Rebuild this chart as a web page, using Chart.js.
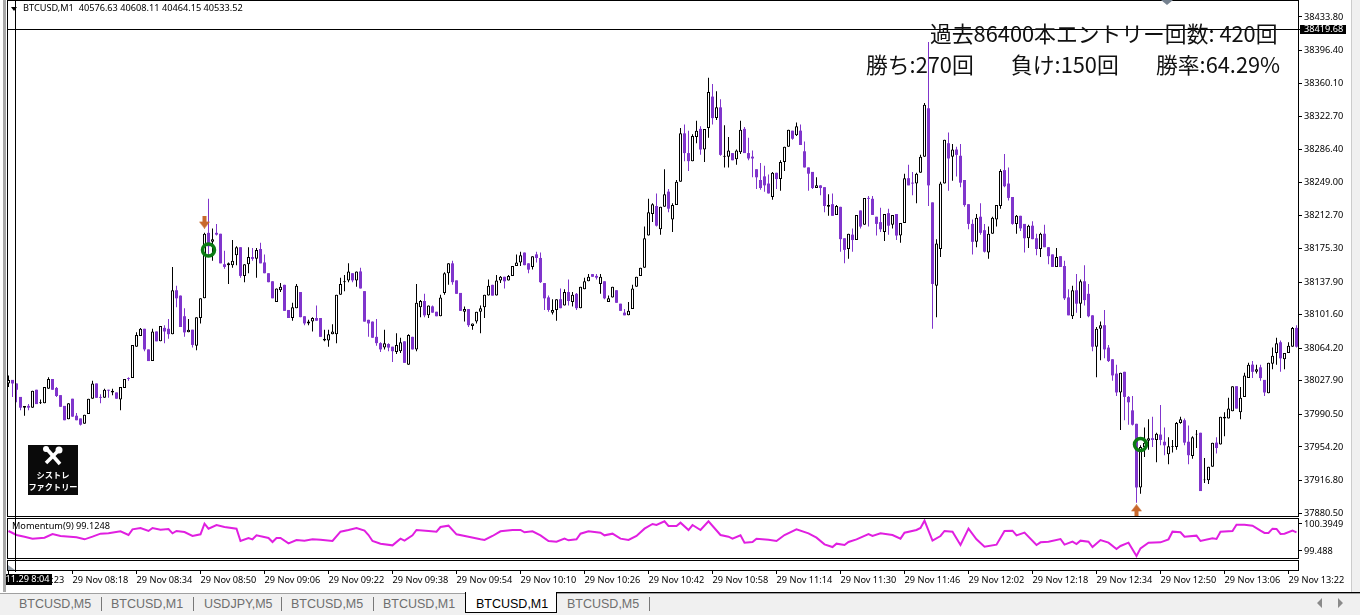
<!DOCTYPE html>
<html lang="ja">
<head>
<meta charset="utf-8">
<title>BTCUSD,M1</title>
<script src="https://cdn.jsdelivr.net/npm/chart.js@4/dist/chart.umd.js"></script>
<style>
  html, body { margin: 0; padding: 0; background: #fff; }
  #wrap { position: relative; width: 1360px; height: 615px; overflow: hidden; background: #fff; font-family: "Noto Sans", sans-serif; }
  #chart { position: absolute; left: 0; top: 0; }
  .abs { position: absolute; white-space: pre; }
  .small { font-size: 9.2px; line-height: 12px; color: #000; }
  .big { font-family: "Noto Sans CJK JP", sans-serif; font-size: 21.8px; line-height: 30px; color: #111; }
  #edgeL { left: 3px; top: 0; width: 3px; height: 592px; background: #a8a8a8; }
  #edgeR { left: 1351px; top: 0; width: 9px; height: 592px; background: #f0f0f0; border-left: 1px solid #ccc; box-sizing: border-box; }
  #tabbar { left: 0; top: 593px; width: 1360px; height: 22px; background: #f0f0f0; border-top: 1px solid #a0a0a0; box-sizing: border-box; }
  #tabline { left: 556px; top: 592px; width: 804px; height: 1px; background: #000; }
  .tab { top: 596px; font-family: "Liberation Sans", sans-serif; font-size: 12.5px; line-height: 16px; color: #6e6e6e; }
  .sep { top: 597px; width: 1px; height: 14px; background: #777; }
  #active { left: 465px; top: 592px; width: 92px; height: 21px; background: #fff; border: 1px solid #000; border-top: 0; box-sizing: border-box; }
  #logo { left: 28px; top: 445px; width: 50px; height: 50px; background: #0a0a0a; color: #fff; text-align: center; white-space: nowrap; font-family: "Noto Sans CJK JP", sans-serif; font-weight: 700; font-size: 8.2px; line-height: 12px; }
  #logo svg { display: block; margin: 1px auto 2px; }
</style>
</head>
<body>
<div id="wrap">
  <canvas id="chart" width="1360" height="592"></canvas>
  <div class="abs" id="edgeL"></div>
  <div class="abs" id="edgeR"></div>

  <div class="abs small" style="left:23px;top:2px">BTCUSD,M1  40576.63 40608.11 40464.15 40533.52</div>
  <svg class="abs" style="left:11px;top:7px" width="6" height="4"><path d="M0 0H6L3 4Z" fill="#000"/></svg>
  <svg class="abs" style="left:1161px;top:0" width="12" height="5"><path d="M0 0H12L6 5Z" fill="#75818f"/></svg>
  <svg class="abs" style="left:8px;top:565px" width="7" height="5"><path d="M0 0L7 5H0Z" fill="#9aa3ad"/></svg>
  <div class="abs small" style="left:12px;top:520px">Momentum(9) 99.1248</div>

  <div class="abs big" style="left:930px;top:18px">過去86400本エントリー回数: 420回</div>
  <div class="abs big" style="left:866px;top:49px">勝ち:270回</div>
  <div class="abs big" style="left:1011px;top:49px">負け:150回</div>
  <div class="abs big" style="left:1156px;top:49px">勝率:64.29%</div>

  <div class="abs" id="logo"><svg width="22" height="20" viewBox="0 0 22 20"><path d="M4 2L18 18" stroke="#fff" stroke-width="3.5"/><path d="M18 3L4 17" stroke="#fff" stroke-width="3.5"/><circle cx="17" cy="4" r="3.5" fill="#fff"/><circle cx="4" cy="3" r="3" fill="#fff"/></svg><div>シストレ</div><div>ファクトリー</div></div>

  <div class="abs" id="tabbar"></div>
  <div class="abs" id="tabline"></div>
  <div class="abs" id="active"></div>
  <div id="tabs"></div>
  <svg class="abs" style="left:1317px;top:598px" width="26" height="10"><path d="M5 0V10L0 5Z M21 0V10L26 5Z" fill="#8a8a8a"/></svg>
</div>

<script>
  // ---------- Data ----------
  const opens = [38025,38029,38025,38010,37998,38000,37998,38018,38003,38003,38019,38030,38020,38012,38000,37985,38008,37989,37986,37980,37991,38008,38025,38010,38009,38018,38015,38015,38007,38020,38031,38031,38066,38078,38086,38063,38050,38083,38072,38087,38086,38080,38129,38123,38100,38082,38085,38067,38098,38120,38193,38183,38193,38192,38158,38157,38157,38168,38177,38145,38158,38166,38164,38175,38160,38148,38139,38116,38129,38135,38107,38098,38109,38127,38100,38092,38094,38098,38098,38073,38073,38080,38080,38124,38138,38140,38148,38140,38150,38128,38096,38094,38077,38070,38065,38069,38066,38060,38061,38072,38046,38077,38063,38110,38117,38101,38111,38105,38100,38126,38148,38159,38140,38126,38105,38108,38089,38094,38105,38110,38123,38135,38123,38140,38144,38140,38145,38156,38160,38171,38159,38155,38169,38165,38137,38121,38104,38107,38119,38112,38127,38116,38125,38109,38130,38139,38147,38145,38136,38139,38116,38121,38129,38114,38104,38101,38108,38133,38145,38154,38190,38214,38223,38197,38222,38239,38208,38224,38250,38304,38282,38273,38300,38309,38286,38310,38345,38321,38333,38278,38278,38282,38275,38283,38309,38282,38278,38264,38252,38256,38248,38233,38260,38253,38272,38289,38307,38302,38307,38284,38266,38261,38243,38246,38244,38222,38225,38213,38222,38187,38175,38191,38185,38218,38202,38232,38231,38211,38205,38194,38215,38202,38214,38190,38204,38254,38249,38248,38260,38278,38332,38227,38134,38175,38248,38293,38278,38286,38279,38252,38225,38203,38183,38211,38196,38171,38192,38208,38223,38263,38248,38233,38203,38212,38203,38187,38201,38187,38175,38192,38177,38169,38155,38167,38156,38121,38100,38129,38114,38139,38125,38101,38066,38086,38090,38065,38052,38036,38015,38038,38010,37995,37980,37909,37954,37961,37964,37962,37968,37960,37946,37954,37954,37981,37984,37960,37944,37968,37970,37917,37917,37932,37959,37957,37986,37986,37994,38022,37993,38010,38031,38046,38038,38043,38029,38014,38047,38059,38071,38052,38059,38066,38087];
  const highs = [38034,38029,38025,38010,38000,38002,38017,38018,38007,38021,38032,38030,38021,38012,38000,38003,38008,37992,37986,37990,38008,38028,38025,38013,38019,38018,38019,38015,38021,38030,38032,38068,38082,38087,38086,38063,38086,38083,38089,38090,38097,38155,38134,38123,38109,38097,38085,38099,38120,38193,38231,38198,38203,38192,38173,38160,38185,38178,38177,38158,38177,38176,38176,38182,38169,38148,38139,38131,38137,38135,38107,38115,38136,38127,38100,38096,38099,38112,38098,38085,38085,38091,38124,38143,38146,38159,38148,38150,38154,38128,38096,38094,38097,38071,38085,38070,38066,38081,38076,38072,38080,38077,38136,38118,38125,38112,38112,38105,38124,38149,38159,38162,38140,38126,38111,38108,38092,38105,38112,38124,38141,38135,38146,38145,38144,38146,38156,38169,38172,38171,38159,38167,38172,38171,38137,38123,38119,38119,38131,38130,38141,38127,38126,38133,38143,38147,38147,38147,38147,38139,38123,38133,38129,38114,38108,38116,38135,38144,38154,38200,38231,38226,38237,38222,38264,38242,38226,38252,38310,38314,38307,38303,38318,38312,38309,38366,38359,38351,38342,38313,38300,38282,38286,38318,38311,38299,38285,38264,38271,38268,38258,38261,38260,38274,38289,38308,38307,38316,38314,38295,38266,38261,38255,38246,38244,38236,38237,38224,38222,38187,38192,38198,38213,38218,38232,38234,38234,38211,38221,38214,38220,38213,38214,38204,38259,38269,38261,38260,38280,38338,38406,38227,38186,38250,38297,38305,38292,38289,38292,38252,38225,38208,38214,38226,38203,38200,38211,38224,38264,38281,38266,38233,38213,38212,38203,38202,38206,38192,38193,38202,38177,38169,38176,38167,38162,38130,38134,38147,38141,38157,38136,38101,38088,38094,38107,38068,38052,38046,38037,38038,38011,38011,37980,37956,37976,37985,37988,37970,38001,37976,37965,37962,37982,37988,37986,37978,37966,37973,37970,37942,37932,37959,37965,37988,37993,38009,38022,38022,38021,38037,38048,38050,38046,38046,38029,38048,38065,38076,38073,38059,38071,38088,38090];
  const lows = [38021,38010,38004,37995,37989,37995,37998,38002,38002,38003,38019,38018,38010,37999,37984,37985,37988,37984,37978,37980,37991,38008,38009,38003,38009,38009,38012,38008,37995,38020,38028,38031,38066,38078,38061,38050,38050,38072,38072,38070,38075,38080,38110,38088,38077,38082,38065,38062,38092,38120,38167,38162,38190,38159,38153,38136,38154,38157,38143,38138,38148,38162,38143,38159,38148,38138,38120,38116,38127,38106,38098,38095,38109,38099,38090,38090,38083,38095,38077,38072,38066,38080,38070,38124,38128,38138,38138,38133,38131,38094,38077,38076,38067,38060,38063,38061,38049,38058,38059,38048,38046,38063,38061,38099,38099,38098,38104,38100,38100,38124,38135,38135,38125,38106,38094,38088,38085,38092,38081,38098,38123,38123,38123,38137,38131,38140,38145,38156,38156,38157,38148,38152,38160,38137,38107,38105,38102,38095,38109,38112,38112,38111,38107,38109,38130,38139,38144,38141,38125,38119,38116,38121,38115,38106,38101,38101,38108,38133,38145,38154,38190,38205,38200,38191,38222,38216,38194,38224,38250,38273,38262,38273,38293,38280,38272,38299,38314,38319,38279,38266,38266,38274,38269,38281,38282,38274,38255,38242,38241,38239,38237,38230,38242,38240,38262,38289,38297,38301,38291,38266,38240,38242,38243,38235,38216,38212,38212,38213,38172,38159,38164,38172,38185,38198,38202,38200,38213,38190,38194,38184,38191,38198,38185,38182,38204,38246,38235,38226,38260,38278,38223,38086,38099,38166,38248,38240,38251,38256,38244,38222,38197,38169,38177,38191,38171,38164,38192,38200,38220,38244,38229,38202,38192,38195,38171,38176,38186,38168,38166,38177,38158,38155,38155,38155,38118,38101,38097,38104,38098,38112,38099,38061,38032,38051,38053,38049,38028,38011,37973,37984,37979,37978,37892,37902,37943,37951,37954,37937,37956,37945,37935,37948,37951,37980,37956,37935,37941,37953,37905,37914,37913,37932,37947,37957,37966,37986,37994,37997,37985,38010,38031,38031,38036,38028,38011,38014,38041,38046,38038,38041,38059,38066,38065];
  const closes = [38029,38025,38018,37998,38000,37998,38017,38002,38004,38021,38030,38018,38011,37999,37984,38003,37988,37984,37979,37990,38008,38025,38009,38009,38018,38017,38017,38008,38021,38030,38030,38068,38079,38086,38063,38050,38083,38072,38089,38083,38080,38129,38120,38088,38082,38085,38068,38099,38120,38192,38178,38186,38191,38159,38155,38159,38162,38177,38145,38158,38166,38164,38174,38159,38148,38138,38120,38131,38133,38106,38098,38110,38134,38099,38092,38094,38098,38095,38077,38075,38080,38083,38124,38136,38139,38150,38140,38150,38131,38094,38092,38076,38070,38063,38070,38065,38061,38068,38071,38048,38079,38063,38115,38117,38101,38112,38104,38100,38121,38148,38159,38138,38125,38106,38108,38090,38092,38105,38109,38124,38134,38123,38140,38144,38139,38145,38156,38160,38168,38157,38152,38167,38165,38138,38120,38107,38107,38119,38109,38127,38117,38124,38109,38133,38139,38144,38144,38143,38144,38120,38120,38133,38115,38106,38101,38106,38131,38144,38154,38187,38216,38225,38201,38222,38236,38220,38224,38250,38304,38282,38273,38301,38307,38286,38309,38350,38321,38333,38280,38279,38285,38274,38285,38308,38282,38276,38276,38255,38243,38246,38237,38260,38253,38272,38289,38308,38298,38312,38291,38266,38259,38243,38246,38243,38223,38224,38212,38223,38186,38174,38192,38185,38213,38200,38232,38231,38213,38203,38197,38214,38201,38213,38190,38204,38254,38246,38248,38259,38278,38336,38246,38136,38181,38248,38297,38276,38286,38280,38249,38224,38203,38183,38210,38193,38172,38192,38210,38224,38262,38245,38232,38203,38212,38198,38187,38201,38186,38175,38192,38177,38167,38155,38166,38155,38120,38101,38129,38114,38139,38118,38100,38066,38086,38090,38063,38050,38034,38015,38037,38010,38004,37979,37909,37954,37959,37964,37962,37969,37962,37956,37955,37955,37981,37985,37959,37945,37965,37969,37905,37918,37932,37959,37953,37988,37988,37997,38022,37997,38009,38034,38046,38038,38041,38031,38015,38048,38056,38070,38053,38059,38067,38087,38066];

  const momentumBars = [0,2,4,6,9,11,13,17,19,21,23,25,28,30,31,33,35,36,38,40,41,42,44,46,48,49,50,52,54,57,58,60,61,62,65,66,67,68,70,72,74,76,78,81,83,85,87,89,90,91,93,96,98,99,101,102,105,107,108,110,112,115,118,119,121,123,126,128,129,131,133,135,137,139,140,142,143,145,148,149,151,153,155,157,159,161,162,164,165,167,168,170,171,173,175,178,180,181,183,184,186,187,190,192,194,197,200,202,204,206,207,209,210,212,215,216,218,221,223,224,227,228,229,231,233,234,236,238,240,242,244,247,249,251,252,254,257,258,260,263,264,266,267,268,270,271,273,275,277,278,280,282,283,285,288,290,291,293,294,297,298,301,302,303,306,307,309,311,313,314,315,316,317,318,319,321,322];
  const momentumValues = [100.160,100.025,99.969,99.902,99.936,100.059,99.992,99.947,99.880,99.969,100.070,100.081,100.149,100.025,100.216,100.261,100.160,100.261,100.205,100.227,100.081,100.160,100.126,99.992,100.048,100.406,100.238,100.361,100.294,100.238,99.824,99.925,99.880,100.014,99.925,99.790,99.925,99.925,99.745,99.857,99.835,99.880,99.869,99.824,100.137,100.193,100.261,100.171,100.025,99.824,99.734,99.678,99.902,99.835,100.014,100.193,100.160,100.137,100.294,100.339,100.048,99.969,99.880,99.857,99.992,100.149,100.193,100.193,100.115,100.149,100.014,99.824,99.801,99.902,99.846,99.880,100.070,100.149,100.104,100.014,100.070,99.902,99.857,99.992,100.238,100.395,100.361,100.484,100.328,100.328,100.440,100.193,100.361,100.193,100.484,100.025,99.969,99.902,100.014,99.768,99.790,99.902,99.869,99.824,100.025,100.216,100.081,99.936,99.712,99.622,99.734,99.689,99.790,99.880,100.059,99.992,100.081,100.025,99.902,100.104,100.193,100.261,100.507,99.835,99.992,100.160,100.137,99.689,100.238,99.880,99.633,99.701,100.160,100.171,100.014,100.104,99.689,99.779,99.801,99.891,99.701,99.801,99.723,99.835,99.801,99.622,99.857,99.768,99.555,99.656,99.768,99.320,99.577,99.768,99.779,99.880,100.137,100.115,99.969,100.003,99.824,99.913,99.891,100.137,100.160,100.372,100.372,100.339,100.171,100.093,100.093,100.238,100.227,100.059,100.070,100.171,100.115];
  const momentumTicks = [100.3949, 99.488];

  const priceTicks = [38433.80,38396.40,38360.10,38322.70,38286.40,38249.00,38212.70,38175.30,38137.90,38101.60,38064.20,38027.90,37990.50,37954.20,37916.80,37880.50];
  const timeTickBars = [0,16,32,48,64,80,96,112,128,144,160,176,192,208,224,240,256,272,288,304,320];
  const timeTickLabels = ["29 Nov 07:23","29 Nov 08:18","29 Nov 08:34","29 Nov 08:50","29 Nov 09:06","29 Nov 09:22","29 Nov 09:38","29 Nov 09:54","29 Nov 10:10","29 Nov 10:26","29 Nov 10:42","29 Nov 10:58","29 Nov 11:14","29 Nov 11:30","29 Nov 11:46","29 Nov 12:02","29 Nov 12:18","29 Nov 12:34","29 Nov 12:50","29 Nov 13:06","29 Nov 13:22"];

  const entryBars = [50, 283];
  const entryPrices = [38174, 37957];
  const sellArrowBars = [49];
  const sellArrowPrices = [38205];
  const buyArrowBars = [282];
  const buyArrowPrices = [37883];

  const crossPrice = 38419.68;
  const crossPriceLabel = "38419.68";
  const crossBar = 1.75;
  const crossTimeLabel = "11.29 8:04";

  const tabNames = ["BTCUSD,M5","BTCUSD,M1","USDJPY,M5","BTCUSD,M5","BTCUSD,M1","BTCUSD,M1","BTCUSD,M5"];

  // ---------- Helpers ----------
  const UP_LINE = "#000000";
  const DOWN_COLOR = "#8035cc";
  const FONT = { family: '"Noto Sans", sans-serif', size: 9.2 };

  function isUp(i) {
    return closes[i] >= opens[i];
  }

  function points(xs, ys) {
    return xs.map((x, i) => ({ x, y: ys[i] }));
  }

  function arrowImage(dir) {
    // small block arrow used as a pointStyle
    const c = document.createElement("canvas");
    c.width = 11;
    c.height = 13;
    const g = c.getContext("2d");
    if (dir === "up") {
      g.translate(0, 13);
      g.scale(1, -1);
    }
    g.fillStyle = "#c8682c";
    g.beginPath();
    g.moveTo(3.5, 0);
    g.lineTo(7.5, 0);
    g.lineTo(7.5, 6);
    g.lineTo(11, 6);
    g.lineTo(5.5, 13);
    g.lineTo(0, 6);
    g.lineTo(3.5, 6);
    g.closePath();
    g.fill();
    return c;
  }

  function fitPanel(scale) {
    scale.width = 62;
    scale.paddingTop = 0;
    scale.paddingBottom = 0;
  }

  // ---------- Frames and crosshair ----------
  const panelFrames = {
    id: "panelFrames",
    afterDatasetsDraw(chart) {
      const { ctx, chartArea, scales } = chart;
      const left = chartArea.left - 0.5;
      const width = chartArea.right - chartArea.left + 1;
      ctx.save();
      ctx.strokeStyle = "#000";
      ctx.lineWidth = 1;
      ctx.strokeRect(left, scales.y.top + 0.5, width, scales.y.bottom - scales.y.top - 1);
      ctx.strokeRect(left, scales.yMom.top + 1.5, width, scales.yMom.bottom - scales.yMom.top - 2);
      ctx.strokeRect(left, scales.yBlank.top + 1.5, width, scales.yBlank.bottom - scales.yBlank.top - 1);

      const cy = Math.floor(scales.y.getPixelForValue(crossPrice)) + 0.5;
      const cx = scales.x.getPixelForValue(crossBar);
      ctx.beginPath();
      ctx.moveTo(chartArea.left, cy);
      ctx.lineTo(chartArea.right + 2, cy);
      ctx.moveTo(cx, 0);
      ctx.lineTo(cx, chartArea.bottom + 2);
      ctx.stroke();

      ctx.font = `${FONT.size}px ${FONT.family}`;
      ctx.textBaseline = "middle";
      ctx.textAlign = "left";
      ctx.fillStyle = "#000";
      ctx.fillRect(chartArea.right + 2, cy - 4.5, 46, 9);
      ctx.fillRect(cx - 10.5, chartArea.bottom + 4, 47, 11);
      ctx.fillStyle = "#fff";
      ctx.fillText(crossPriceLabel, chartArea.right + 6, cy);
      ctx.fillText(crossTimeLabel, cx - 10, chartArea.bottom + 9.5);
      ctx.restore();
    },
  };

  // ---------- Chart ----------
  new Chart(document.getElementById("chart"), {
    type: "bar",
    data: {
      datasets: [
        {
          type: "line",
          data: points(entryBars, entryPrices),
          showLine: false,
          pointStyle: "circle",
          pointRadius: 6,
          pointBorderWidth: 3.5,
          pointBorderColor: "#0a7a12",
          pointBackgroundColor: "transparent",
          order: 0,
          clip: false,
        },
        {
          type: "line",
          data: points(sellArrowBars, sellArrowPrices),
          showLine: false,
          pointStyle: arrowImage("down"),
          order: 0,
        },
        {
          type: "line",
          data: points(buyArrowBars, buyArrowPrices),
          showLine: false,
          pointStyle: arrowImage("up"),
          order: 0,
        },
        {
          type: "line",
          yAxisID: "yMom",
          data: points(momentumBars, momentumValues),
          borderColor: "#e01fe0",
          borderWidth: 2,
          pointRadius: 0,
          tension: 0,
          order: 1,
        },
        {
          // bodies
          data: opens.map((o, i) => ({ x: i, y: [o, closes[i]] })),
          barThickness: 3,
          grouped: false,
          inflateAmount: 0,
          borderSkipped: false,
          borderWidth: (c) => (isUp(c.dataIndex) ? 1 : 0),
          borderColor: UP_LINE,
          backgroundColor: (c) => (isUp(c.dataIndex) ? "#fff" : DOWN_COLOR),
          order: 2,
        },
        {
          // wicks
          data: lows.map((l, i) => ({ x: i, y: [l, highs[i]] })),
          barThickness: 1,
          grouped: false,
          inflateAmount: 0,
          borderSkipped: false,
          borderWidth: 0,
          backgroundColor: (c) => (isUp(c.dataIndex) ? UP_LINE : DOWN_COLOR),
          order: 3,
        },
      ],
    },
    options: {
      responsive: false,
      animation: false,
      events: [],
      layout: { autoPadding: false, padding: { left: 8, top: 0, right: 0, bottom: 0 } },
      plugins: { legend: { display: false }, tooltip: { enabled: false } },
      scales: {
        x: {
          type: "linear",
          offset: false,
          min: -0.125,
          max: 322.375,
          border: { display: false },
          grid: { drawOnChartArea: false, color: "#000", tickLength: 4, offset: false },
          afterBuildTicks: (s) => { s.ticks = timeTickBars.map((value) => ({ value })); },
          afterFit: (s) => { s.height = 22; s.paddingLeft = 0; s.paddingRight = 0; },
          ticks: {
            align: "start",
            autoSkip: false,
            maxRotation: 0,
            minRotation: 0,
            padding: 1,
            color: "#000",
            font: FONT,
            callback: (v) => timeTickLabels[timeTickBars.indexOf(v)],
          },
        },
        y: {
          type: "linear",
          position: "right",
          stack: "panels",
          stackWeight: 517,
          min: 37876.05,
          max: 38452.76,
          border: { display: false },
          grid: { drawOnChartArea: false, color: "#000", tickLength: 4 },
          afterBuildTicks: (s) => { s.ticks = priceTicks.map((value) => ({ value })); },
          afterFit: fitPanel,
          ticks: { autoSkip: false, padding: 2, color: "#000", font: FONT, callback: (v) => v.toFixed(2) },
        },
        yMom: {
          type: "linear",
          position: "right",
          stack: "panels",
          stackWeight: 42,
          min: 99.219,
          max: 100.63,
          border: { display: false },
          grid: { drawOnChartArea: false, color: "#000", tickLength: 4 },
          afterBuildTicks: (s) => { s.ticks = momentumTicks.map((value) => ({ value })); },
          afterFit: fitPanel,
          ticks: { autoSkip: false, padding: 2, color: "#000", font: FONT, callback: (v) => String(v) },
        },
        yBlank: {
          type: "linear",
          position: "right",
          stack: "panels",
          stackWeight: 11,
          min: 0,
          max: 1,
          border: { display: false },
          grid: { display: false },
          afterFit: fitPanel,
          ticks: { display: false },
        },
      },
    },
    plugins: [panelFrames],
  });

  // ---------- Tabs ----------
  const tabLefts = [19, 111, 204, 291, 383, 476, 567];
  const sepLefts = [101, 193, 281, 373, 649];
  const tabsEl = document.getElementById("tabs");
  tabNames.forEach((name, i) => {
    const el = document.createElement("div");
    el.className = "abs tab";
    el.style.left = tabLefts[i] + "px";
    if (i === 5) el.style.color = "#000";
    el.textContent = name;
    tabsEl.appendChild(el);
  });
  sepLefts.forEach((x) => {
    const el = document.createElement("div");
    el.className = "abs sep";
    el.style.left = x + "px";
    tabsEl.appendChild(el);
  });
</script>
</body>
</html>
